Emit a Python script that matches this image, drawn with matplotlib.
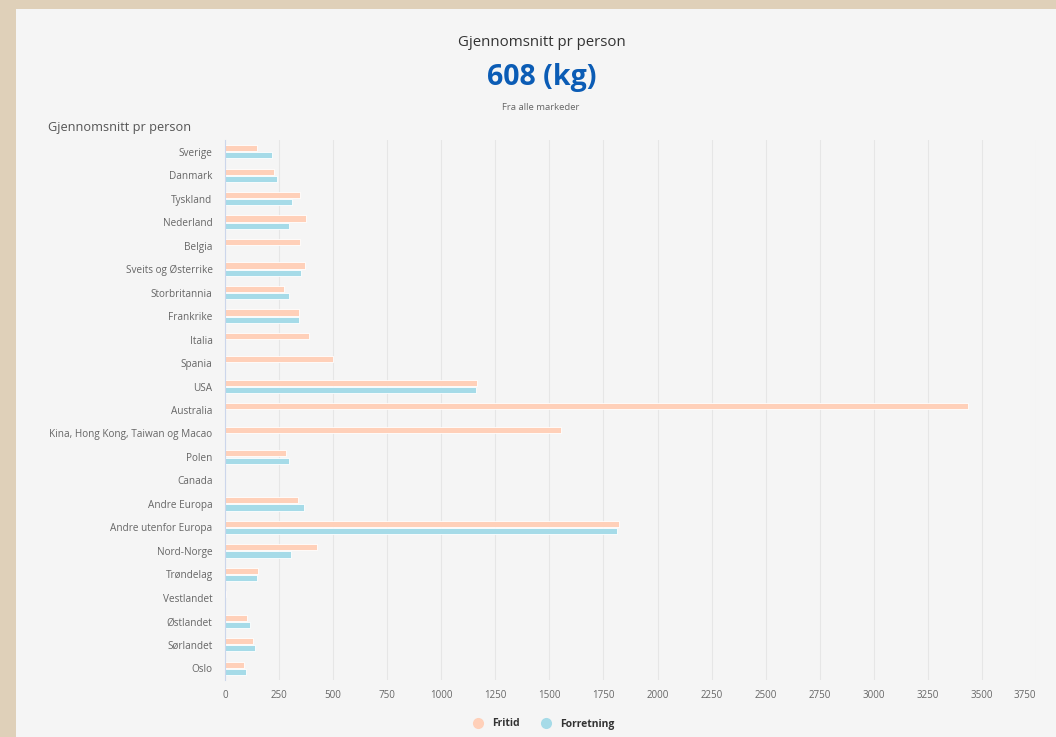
import matplotlib
matplotlib.use('Agg')
import matplotlib.pyplot as plt
from matplotlib.patches import Rectangle
from matplotlib.lines import Line2D
import numpy as np

plt.rcParams['font.family'] = ['Open Sans', 'DejaVu Sans']

# data
categories = [
    "Sverige", "Danmark", "Tyskland", "Nederland", "Belgia",
    "Sveits og Østerrike", "Storbritannia", "Frankrike", "Italia", "Spania",
    "USA", "Australia", "Kina, Hong Kong, Taiwan og Macao", "Polen", "Canada",
    "Andre Europa", "Andre utenfor Europa", "Nord-Norge", "Trøndelag",
    "Vestlandet", "Østlandet", "Sørlandet", "Oslo",
]
fritid = [147, 225, 347, 376, 347, 368, 274, 342, 388, 499,
          1163, 3435, 1555, 282, 0, 337, 1822, 427, 153, 5, 102, 129, 89]
forretning = [216, 240, 310, 296, 0, 351, 296, 342, 0, 0,
              1160, 0, 0, 296, 0, 364, 1812, 305, 148, 1, 116, 137, 97]
x_ticks = list(range(0, 3751, 250))

C_FRITID = '#ffd0b9'
C_FORR = '#a6dbe8'

W, H = 1056, 737
fig = plt.figure(figsize=(W / 100, H / 100), dpi=100)
fig.patch.set_facecolor('#dfd0b9')
fig.add_artist(Rectangle((16 / W, 0), 1 - 16 / W, 1 - 9 / H,
                         transform=fig.transFigure, facecolor='#f5f5f5',
                         edgecolor='none', zorder=0))

ax = fig.add_axes([225 / W, (H - 680) / H, (1036 - 225) / W, (680 - 140) / H])
ax.set_facecolor('none')

y = np.arange(len(categories))
h = 0.26
ax.barh(y - 0.155, fritid, height=h, color=C_FRITID, edgecolor='white',
        linewidth=0.6, zorder=3)
ax.barh(y + 0.155, forretning, height=h, color=C_FORR, edgecolor='white',
        linewidth=0.6, zorder=3)

ax.set_ylim(len(categories) - 0.5, -0.5)
ax.set_xlim(0, 3750)
ax.set_yticks(y)
ax.set_yticklabels(categories, fontsize=7.2, color='#666666')
ax.set_xticks(x_ticks)
ax.set_xticklabels([str(t) for t in x_ticks], fontsize=7, color='#666666')
ax.get_xticklabels()[-1].set_horizontalalignment('right')
ax.tick_params(axis='both', length=0)
ax.tick_params(axis='y', pad=9)
ax.tick_params(axis='x', pad=7)
ax.grid(axis='x', color='#e6e6e6', linewidth=0.8, zorder=0)
for s in ['top', 'right', 'bottom']:
    ax.spines[s].set_visible(False)
ax.spines['left'].set_color('#ccd6eb')
ax.spines['left'].set_linewidth(0.8)
ax.spines['left'].set_zorder(5)

# titles
fig.text(542 / W, 1 - 42 / H, "Gjennomsnitt pr person", ha='center',
         va='center', fontsize=10.8, color='#333333')
fig.text(542 / W, 1 - 78 / H, "608 (kg)", ha='center', va='center',
         fontsize=20.5, fontweight='bold', color='#0b5cb5')
fig.text(541 / W, 1 - 107 / H, "Fra alle markeder", ha='center',
         va='center', fontsize=6.8, color='#666666')
fig.text(48 / W, 1 - 128 / H, "Gjennomsnitt pr person", ha='left',
         va='center', fontsize=9.2, color='#555555')

handles = [
    Line2D([], [], marker='o', linestyle='', markersize=8,
           markerfacecolor=C_FRITID, markeredgecolor='none', label='Fritid'),
    Line2D([], [], marker='o', linestyle='', markersize=8,
           markerfacecolor=C_FORR, markeredgecolor='none', label='Forretning'),
]
fig.legend(handles=handles, loc='center', bbox_to_anchor=(541 / W, 1 - 724 / H),
           ncol=2, frameon=False, handletextpad=0.3, columnspacing=1.6,
           prop={'size': 7.5, 'weight': 'bold'}, labelcolor='#333333')

fig.savefig('out.png', dpi=100, facecolor=fig.get_facecolor())
